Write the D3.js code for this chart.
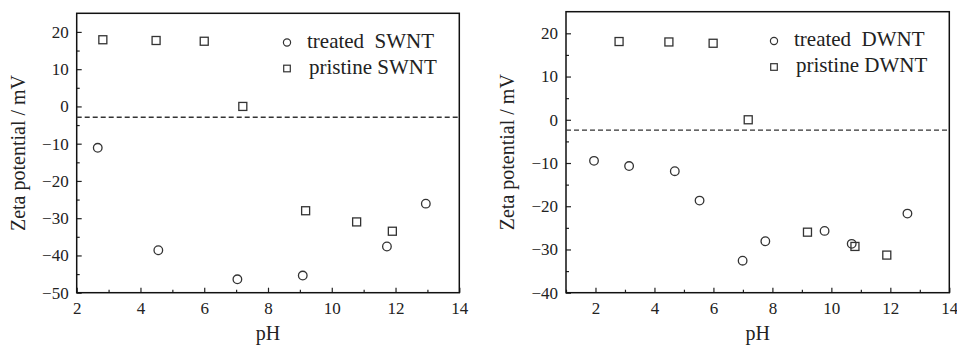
<!DOCTYPE html>
<html>
<head>
<meta charset="utf-8">
<script src="https://cdn.jsdelivr.net/npm/d3@7"></script>
<style>
  body { margin: 0; background: #fff; }
  svg, svg text { font-family: "Liberation Serif", "Times New Roman", Times, "DejaVu Serif", serif; }
  .legend text { white-space: pre; }
</style>
</head>
<body>
<div id="chart"></div>
<script>
// SWNT panel
const swntTreatedPH = [2.66, 4.56, 7.04, 9.09, 11.73, 12.95];
const swntTreatedZeta = [-11.1, -38.6, -46.4, -45.4, -37.6, -26.1];
const swntPristinePH = [2.82, 4.49, 6.0, 7.21, 9.18, 10.78, 11.9];
const swntPristineZeta = [17.9, 17.7, 17.5, 0, -28.0, -31.0, -33.5];
const swntIEP = -2.9;

// DWNT panel
const dwntTreatedPH = [1.95, 3.14, 4.69, 5.53, 6.99, 7.76, 9.77, 10.69, 12.58];
const dwntTreatedZeta = [-9.5, -10.7, -11.9, -18.7, -32.6, -28.1, -25.7, -28.7, -21.7];
const dwntPristinePH = [2.80, 4.49, 5.99, 7.18, 9.19, 10.80, 11.88];
const dwntPristineZeta = [18.1, 18.0, 17.7, 0, -26.0, -29.3, -31.3];
const dwntIEP = -2.4;

const swntXTicks = [2, 4, 6, 8, 10, 12, 14];
const swntYTicks = [-50, -40, -30, -20, -10, 0, 10, 20];
const dwntXTicks = [2, 4, 6, 8, 10, 12, 14];
const dwntYTicks = [-40, -30, -20, -10, 0, 10, 20];

const W = 957, H = 346;
const ink = "#222";
const markInk = "#333";
const serif = '"Liberation Serif", "Times New Roman", Times, "DejaVu Serif", serif';

const svg = d3.select("#chart").append("svg")
  .attr("width", W)
  .attr("height", H);

function drawPanel(opt) {
  const x = d3.scaleLinear().domain(opt.xDomain).range([opt.left, opt.right]);
  const y = d3.scaleLinear().domain(opt.yDomain).range([opt.bottom, opt.top]);

  const g = svg.append("g").attr("font-family", serif);

  // minor ticks
  const xMinor = d3.range(Math.ceil(opt.xDomain[0]), opt.xDomain[1] + 1).filter(v => v % 2 !== 0);
  const yMinor = d3.range(opt.yDomain[0] + 5, opt.yDomain[1], 10);

  g.append("g")
    .attr("transform", `translate(0,${opt.bottom})`)
    .call(d3.axisBottom(x).tickValues(xMinor).tickSize(-3).tickFormat(""))
    .call(a => a.select(".domain").remove())
    .call(a => a.selectAll("line").attr("stroke", ink).attr("stroke-width", 1.2));

  g.append("g")
    .attr("transform", `translate(${opt.left},0)`)
    .call(d3.axisLeft(y).tickValues(yMinor).tickSize(-3).tickFormat(""))
    .call(a => a.select(".domain").remove())
    .call(a => a.selectAll("line").attr("stroke", ink).attr("stroke-width", 1.2));

  // major ticks
  g.append("g")
    .attr("transform", `translate(0,${opt.bottom})`)
    .call(d3.axisBottom(x).tickValues(opt.xTicks).tickSize(-5).tickPadding(9).tickFormat(d3.format("d")))
    .attr("font-family", serif)
    .call(a => a.select(".domain").remove())
    .call(a => a.selectAll("line").attr("stroke", ink).attr("stroke-width", 1.2))
    .call(a => a.selectAll("text").attr("fill", ink).style("font-size", "17px"));

  g.append("g")
    .attr("transform", `translate(${opt.left},0)`)
    .call(d3.axisLeft(y).tickValues(opt.yTicks).tickSize(-5).tickPadding(8).tickFormat(d3.format("d")))
    .attr("font-family", serif)
    .call(a => a.select(".domain").remove())
    .call(a => a.selectAll("line").attr("stroke", ink).attr("stroke-width", 1.2))
    .call(a => a.selectAll("text").attr("fill", ink).style("font-size", "17px"));

  // frame
  g.append("rect")
    .attr("x", opt.left)
    .attr("y", opt.top)
    .attr("width", opt.right - opt.left)
    .attr("height", opt.bottom - opt.top)
    .attr("fill", "none")
    .attr("stroke", "#111")
    .attr("stroke-width", 1.5);

  // dashed reference line
  g.append("line")
    .attr("x1", opt.left)
    .attr("x2", opt.right)
    .attr("y1", y(opt.iep))
    .attr("y2", y(opt.iep))
    .attr("stroke", markInk)
    .attr("stroke-width", 1.3)
    .attr("stroke-dasharray", "5,3");

  // pristine squares
  const sq = 8;
  g.selectAll("rect.pristine")
    .data(d3.zip(opt.pristinePH, opt.pristineZeta))
    .enter().append("rect")
    .attr("class", "pristine")
    .attr("x", d => x(d[0]) - sq / 2)
    .attr("y", d => y(d[1]) - sq / 2)
    .attr("width", sq)
    .attr("height", sq)
    .attr("fill", "none")
    .attr("stroke", markInk)
    .attr("stroke-width", 1.3);

  // treated circles
  g.selectAll("circle.treated")
    .data(d3.zip(opt.treatedPH, opt.treatedZeta))
    .enter().append("circle")
    .attr("class", "treated")
    .attr("cx", d => x(d[0]))
    .attr("cy", d => y(d[1]))
    .attr("r", 4.3)
    .attr("fill", "none")
    .attr("stroke", markInk)
    .attr("stroke-width", 1.3);

  // legend
  const lg = g.append("g").attr("class", "legend");
  lg.append("circle")
    .attr("cx", opt.legendX)
    .attr("cy", opt.legendY)
    .attr("r", 3.6)
    .attr("fill", "none")
    .attr("stroke", markInk)
    .attr("stroke-width", 1.2);
  lg.append("text")
    .attr("x", opt.legendX + 20)
    .attr("y", opt.legendY + 5)
    .attr("fill", ink)
    .style("font-size", "21px")
    .text(`treated  ${opt.name}`);
  lg.append("rect")
    .attr("x", opt.legendX - 3.3)
    .attr("y", opt.legendY + 26 - 3.3)
    .attr("width", 6.6)
    .attr("height", 6.6)
    .attr("fill", "none")
    .attr("stroke", markInk)
    .attr("stroke-width", 1.2);
  lg.append("text")
    .attr("x", opt.legendX + 22)
    .attr("y", opt.legendY + 31)
    .attr("fill", ink)
    .style("font-size", "21px")
    .text(`pristine ${opt.name}`);

  // axis labels
  g.append("text")
    .attr("x", (opt.left + opt.right) / 2)
    .attr("y", 340)
    .attr("text-anchor", "middle")
    .attr("fill", ink)
    .style("font-size", "20px")
    .text("pH");

  g.append("text")
    .attr("transform", `translate(${opt.left - 52},${(opt.top + opt.bottom) / 2}) rotate(-90)`)
    .attr("text-anchor", "middle")
    .attr("fill", ink)
    .style("font-size", "20px")
    .text("Zeta potential / mV");
}

drawPanel({
  name: "SWNT",
  left: 76.7, right: 459.3, top: 13.3, bottom: 292.7,
  xDomain: [2, 14], yDomain: [-50, 25],
  xTicks: swntXTicks, yTicks: swntYTicks,
  treatedPH: swntTreatedPH, treatedZeta: swntTreatedZeta,
  pristinePH: swntPristinePH, pristineZeta: swntPristineZeta,
  iep: swntIEP,
  legendX: 287, legendY: 42.5
});

drawPanel({
  name: "DWNT",
  left: 566, right: 949.3, top: 11.7, bottom: 292.7,
  xDomain: [1, 14], yDomain: [-40, 25],
  xTicks: dwntXTicks, yTicks: dwntYTicks,
  treatedPH: dwntTreatedPH, treatedZeta: dwntTreatedZeta,
  pristinePH: dwntPristinePH, pristineZeta: dwntPristineZeta,
  iep: dwntIEP,
  legendX: 774, legendY: 41
});
</script>
</body>
</html>
